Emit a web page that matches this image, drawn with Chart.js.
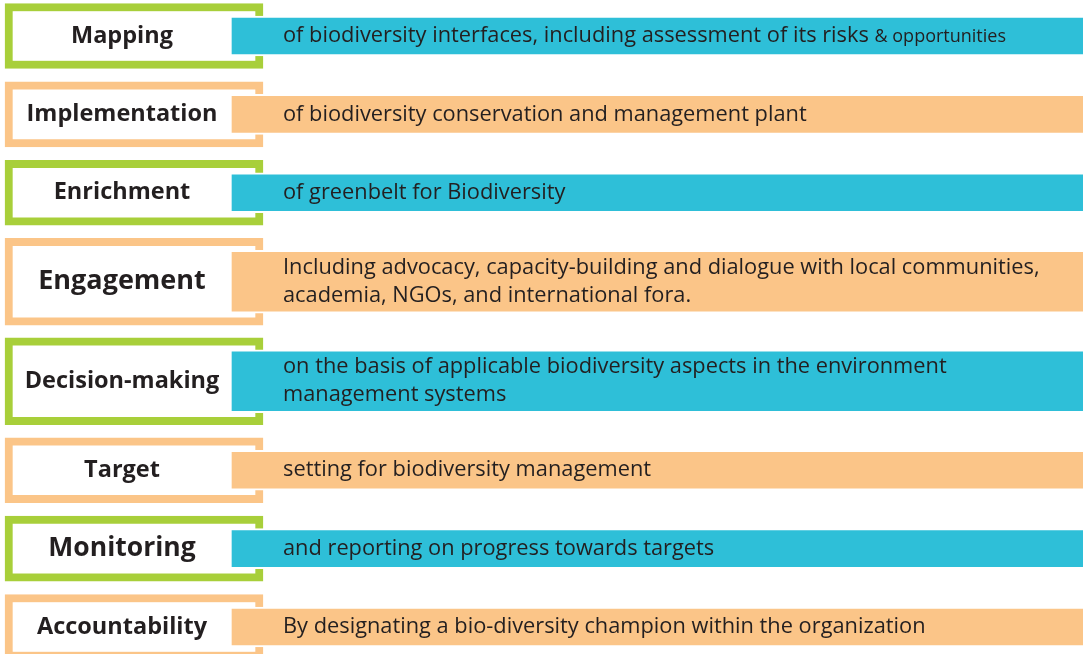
<!DOCTYPE html>
<html>
<head>
<meta charset="utf-8">
<script src="https://cdn.jsdelivr.net/npm/chart.js@4.4.1/dist/chart.umd.min.js"></script>
<style>
  html, body { margin: 0; padding: 0; background: #ffffff; overflow: hidden; }
  #wrap { width: 1083px; height: 654px; position: relative; }
</style>
</head>
<body>
<div id="wrap"><canvas id="c" width="1083" height="654"></canvas></div>
<script>
// ---------- DATA ----------
const stepLabels = ['Mapping', 'Implementation', 'Enrichment', 'Engagement',
  'Decision-making', 'Target', 'Monitoring', 'Accountability'];

const stepDescriptions = [
  ['of biodiversity interfaces, including assessment of its risks'],
  ['of biodiversity conservation and management plant'],
  ['of greenbelt for Biodiversity'],
  ['Including advocacy, capacity-building and dialogue with local communities,',
   'academia, NGOs, and international fora.'],
  ['on the basis of applicable biodiversity aspects in the environment',
   'management systems'],
  ['setting for biodiversity management'],
  ['and reporting on progress towards targets'],
  ['By designating a bio-diversity champion within the organization']
];

const stepDescriptionTails = ['& opportunities', '', '', '', '', '', '', ''];

const stepThemes = ['green', 'orange', 'green', 'orange', 'green', 'orange', 'green', 'orange'];

// ---------- STYLE / LAYOUT ----------
const frameColors = { green: '#a8cf3a', orange: '#fbc588' };
const barColors   = { green: '#2ebfd8', orange: '#fbc588' };
const labelFontSize = { 'Engagement': 27, 'Monitoring': 26.5 };
const textColor = '#231f20';
const FONT = '"Open Sans", "DejaVu Sans", sans-serif';

const W = 1083, H = 654;
const FRAME_X = [5, 263];
const BAR_X = [230, 1095];
const DESC_X = 283;
const LABEL_CX = 122;
const FIRST_CENTER = 36, LAST_CENTER = 627;
const DOUBLE_WEIGHT = 1.27;

// row positions in "row units", derived from the number of text lines
const weights = stepDescriptions.map(d => d.length > 1 ? DOUBLE_WEIGHT : 1);
const rowPos = [];
let acc = 0;
weights.forEach(w => { rowPos.push(acc + w / 2); acc += w; });
const pxPerUnit = (LAST_CENTER - FIRST_CENTER) / (rowPos[rowPos.length - 1] - rowPos[0]);
const yMin = rowPos[0] - FIRST_CENTER / pxPerUnit;
const yMax = yMin + H / pxPerUnit;

function rowsWhere(pred, xr) {
  const out = [];
  stepLabels.forEach((l, i) => { if (pred(i)) out.push({ x: xr, y: rowPos[i], row: i }); });
  return out;
}
const isDouble = i => stepDescriptions[i].length > 1;

const colorOf = (map) => (ctx) => {
  const r = ctx.raw ? ctx.raw.row : 0;
  return map[stepThemes[r]];
};

const datasets = [
  { label: 'barsSingle', data: rowsWhere(i => !isDouble(i), BAR_X), barThickness: 40,
    backgroundColor: colorOf(barColors), borderColor: '#ffffff', borderWidth: 2, borderSkipped: false, order: 1 },
  { label: 'barsDouble', data: rowsWhere(isDouble, BAR_X), barThickness: 63,
    backgroundColor: colorOf(barColors), borderColor: '#ffffff', borderWidth: 2, borderSkipped: false, order: 1 },
  { label: 'framesSingle', data: rowsWhere(i => !isDouble(i), FRAME_X), barThickness: 65,
    backgroundColor: '#ffffff', borderColor: colorOf(frameColors), borderWidth: 8, borderSkipped: false, order: 2 },
  { label: 'framesDouble', data: rowsWhere(isDouble, FRAME_X), barThickness: 87,
    backgroundColor: '#ffffff', borderColor: colorOf(frameColors), borderWidth: 8, borderSkipped: false, order: 2 }
];

const textPlugin = {
  id: 'stepText',
  afterDatasetsDraw(chart) {
    const ctx = chart.ctx;
    const ys = chart.scales.y;
    ctx.save();
    ctx.fillStyle = textColor;
    ctx.textBaseline = 'middle';
    stepLabels.forEach((lab, i) => {
      const cy = ys.getPixelForValue(rowPos[i]);
      // label
      const fs = labelFontSize[lab] || 23.5;
      ctx.font = `bold ${fs}px ${FONT}`;
      ctx.textAlign = 'center';
      ctx.fillText(lab, LABEL_CX, cy);
      // description
      const lines = stepDescriptions[i];
      ctx.textAlign = 'left';
      const lh = 28;
      lines.forEach((ln, k) => {
        const ly = cy + (k - (lines.length - 1) / 2) * lh;
        ctx.font = `21.8px ${FONT}`;
        ctx.fillText(ln, DESC_X, ly);
        if (k === lines.length - 1 && stepDescriptionTails[i]) {
          const w = ctx.measureText(ln + ' ').width;
          ctx.font = `18px ${FONT}`;
          ctx.fillText(stepDescriptionTails[i], DESC_X + w, ly + 1);
        }
      });
    });
    ctx.restore();
  }
};

new Chart(document.getElementById('c'), {
  type: 'bar',
  data: { datasets },
  options: {
    indexAxis: 'y',
    responsive: false,
    animation: false,
    devicePixelRatio: 1,
    layout: { padding: 0 },
    parsing: { xAxisKey: 'x', yAxisKey: 'y' },
    datasets: { bar: { grouped: false } },
    scales: {
      x: { type: 'linear', min: 0, max: W, display: false, offset: false },
      y: { type: 'linear', min: yMin, max: yMax, reverse: true, display: false, offset: false }
    },
    plugins: { legend: { display: false }, tooltip: { enabled: false } }
  },
  plugins: [textPlugin]
});
</script>
</body>
</html>
